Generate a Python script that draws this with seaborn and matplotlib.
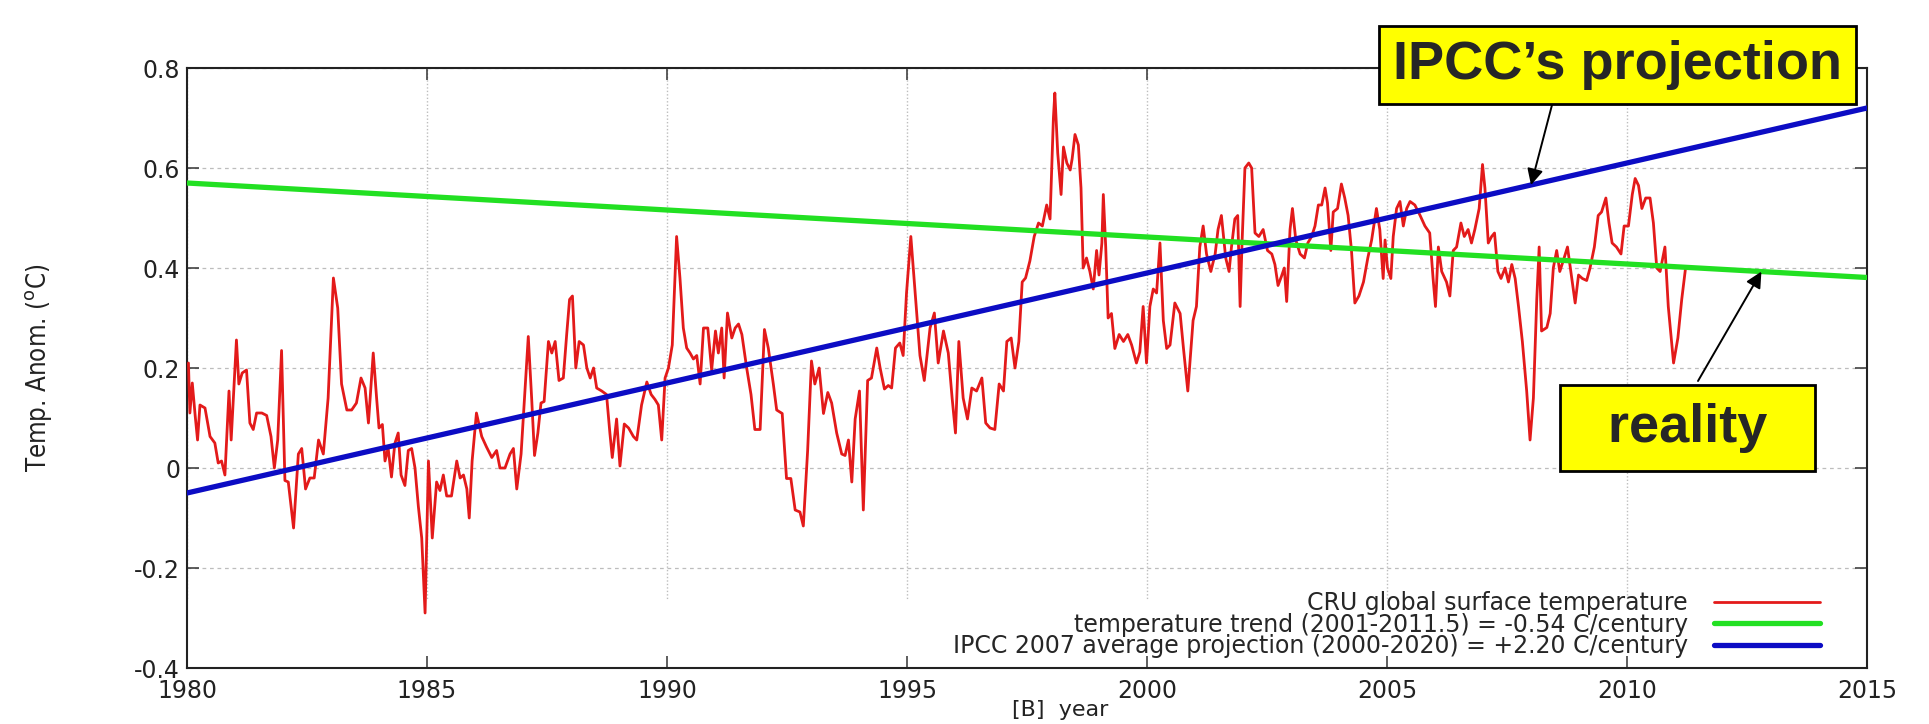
import numpy as np
import pandas as pd
import matplotlib
matplotlib.use("Agg")
import matplotlib.pyplot as plt
import seaborn as sns
from matplotlib.patches import Rectangle

# ---------------- data ----------------
years = [
    1980.03, 1980.06, 1980.11, 1980.17, 1980.22, 1980.27, 1980.375, 1980.48, 1980.58, 1980.65,
    1980.72, 1980.79, 1980.875, 1980.92, 1981.03, 1981.08, 1981.15, 1981.24, 1981.31, 1981.38,
    1981.45, 1981.56, 1981.66, 1981.75, 1981.82, 1981.89, 1981.97, 1982.04, 1982.11, 1982.22,
    1982.32, 1982.39, 1982.47, 1982.56, 1982.65, 1982.74, 1982.84, 1982.94, 1983.05, 1983.14,
    1983.22, 1983.33, 1983.43, 1983.53, 1983.625, 1983.71, 1983.78, 1983.88, 1983.95, 1984.0,
    1984.07, 1984.125, 1984.19, 1984.26, 1984.33, 1984.40, 1984.46, 1984.54, 1984.61, 1984.68,
    1984.75, 1984.82, 1984.89, 1984.96, 1985.03, 1985.11, 1985.20, 1985.27, 1985.34, 1985.41,
    1985.51, 1985.62, 1985.69, 1985.76, 1985.83, 1985.88, 1985.94, 1986.03, 1986.14, 1986.24,
    1986.35, 1986.45, 1986.52, 1986.625, 1986.73, 1986.80, 1986.87, 1986.96, 1987.04, 1987.11,
    1987.18, 1987.24, 1987.31, 1987.375, 1987.44, 1987.53, 1987.60, 1987.67, 1987.75, 1987.84,
    1987.91, 1987.97, 1988.03, 1988.10, 1988.17, 1988.26, 1988.33, 1988.40, 1988.47, 1988.535,
    1988.64, 1988.74, 1988.81, 1988.86, 1988.95, 1989.02, 1989.11, 1989.20, 1989.30, 1989.37,
    1989.47, 1989.58, 1989.67, 1989.75, 1989.82, 1989.89, 1989.96, 1990.03, 1990.11, 1990.20,
    1990.27, 1990.34, 1990.41, 1990.48, 1990.55, 1990.62, 1990.69, 1990.76, 1990.85, 1990.93,
    1991.01, 1991.07, 1991.14, 1991.19, 1991.26, 1991.35, 1991.42, 1991.49, 1991.56, 1991.66,
    1991.75, 1991.83, 1991.94, 1992.03, 1992.11, 1992.215, 1992.285, 1992.40, 1992.49, 1992.58,
    1992.67, 1992.77, 1992.84, 1992.93, 1993.01, 1993.08, 1993.17, 1993.26, 1993.35, 1993.43,
    1993.535, 1993.64, 1993.71, 1993.78, 1993.85, 1993.92, 1994.01, 1994.09, 1994.18, 1994.26,
    1994.37, 1994.44, 1994.53, 1994.61, 1994.68, 1994.76, 1994.85, 1994.92, 1994.99, 1995.08,
    1995.17, 1995.27, 1995.36, 1995.48, 1995.57, 1995.65, 1995.76, 1995.86, 1995.94, 1996.01,
    1996.08, 1996.17, 1996.26, 1996.35, 1996.45, 1996.56, 1996.64, 1996.73, 1996.83, 1996.92,
    1997.01, 1997.08, 1997.17, 1997.25, 1997.33, 1997.40, 1997.47, 1997.56, 1997.65, 1997.74,
    1997.82, 1997.91, 1997.98, 1998.05, 1998.08, 1998.14, 1998.21, 1998.26, 1998.33, 1998.40,
    1998.44, 1998.50, 1998.57, 1998.625, 1998.67, 1998.74, 1998.81, 1998.88, 1998.95, 1999.00,
    1999.06, 1999.09, 1999.14, 1999.19, 1999.26, 1999.33, 1999.42, 1999.51, 1999.60, 1999.68,
    1999.78, 1999.85, 1999.92, 1999.99, 2000.06, 2000.13, 2000.20, 2000.27, 2000.34, 2000.41,
    2000.48, 2000.58, 2000.69, 2000.76, 2000.85, 2000.96, 2001.03, 2001.10, 2001.17, 2001.24,
    2001.33, 2001.42, 2001.48, 2001.55, 2001.64, 2001.71, 2001.76, 2001.83, 2001.89, 2001.94,
    2001.98, 2002.04, 2002.12, 2002.18, 2002.25, 2002.33, 2002.42, 2002.51, 2002.60, 2002.665,
    2002.73, 2002.80, 2002.86, 2002.91, 2002.98, 2003.03, 2003.10, 2003.19, 2003.28, 2003.35,
    2003.43, 2003.50, 2003.57, 2003.64, 2003.71, 2003.76, 2003.83, 2003.88, 2003.97, 2004.05,
    2004.12, 2004.19, 2004.26, 2004.33, 2004.415, 2004.51, 2004.60, 2004.68, 2004.78, 2004.85,
    2004.92, 2004.96, 2005.01, 2005.08, 2005.13, 2005.20, 2005.27, 2005.34, 2005.41, 2005.48,
    2005.58, 2005.69, 2005.79, 2005.89, 2005.96, 2006.01, 2006.07, 2006.14, 2006.24, 2006.31,
    2006.38, 2006.45, 2006.54, 2006.61, 2006.69, 2006.76, 2006.83, 2006.92, 2006.99, 2007.04,
    2007.11, 2007.18, 2007.24, 2007.31, 2007.375, 2007.46, 2007.53, 2007.60, 2007.67, 2007.74,
    2007.82, 2007.91, 2007.98, 2008.05, 2008.12, 2008.17, 2008.22, 2008.33, 2008.40, 2008.465,
    2008.535, 2008.60, 2008.69, 2008.76, 2008.85, 2008.92, 2008.99, 2009.07, 2009.16, 2009.23,
    2009.32, 2009.40, 2009.47, 2009.56, 2009.625, 2009.69, 2009.78, 2009.875, 2009.94, 2010.03,
    2010.11, 2010.17, 2010.24, 2010.31, 2010.39, 2010.48, 2010.55, 2010.62, 2010.69, 2010.79,
    2010.86, 2010.97, 2011.06, 2011.14, 2011.22,
]
anomaly = [
    0.21, 0.11, 0.17, 0.105, 0.056, 0.126, 0.12, 0.063, 0.05, 0.01,
    0.014, -0.014, 0.154, 0.056, 0.256, 0.168, 0.19, 0.196, 0.09, 0.077,
    0.11, 0.11, 0.105, 0.063, 0.0, 0.056, 0.235, -0.025, -0.028, -0.12,
    0.028, 0.039, -0.042, -0.02, -0.02, 0.056, 0.028, 0.14, 0.38, 0.32,
    0.168, 0.116, 0.116, 0.13, 0.18, 0.16, 0.09, 0.23, 0.14, 0.08,
    0.087, 0.014, 0.04, -0.018, 0.049, 0.07, -0.014, -0.035, 0.035, 0.039,
    0.0, -0.077, -0.14, -0.29, 0.014, -0.14, -0.028, -0.045, -0.014, -0.056,
    -0.056, 0.014, -0.02, -0.014, -0.042, -0.10, 0.014, 0.11, 0.063, 0.042,
    0.021, 0.035, 0.0, 0.0, 0.028, 0.039, -0.042, 0.028, 0.154, 0.263,
    0.14, 0.025, 0.07, 0.13, 0.133, 0.253, 0.23, 0.253, 0.175, 0.18,
    0.267, 0.337, 0.344, 0.20, 0.253, 0.246, 0.20, 0.18, 0.20, 0.16,
    0.154, 0.147, 0.07, 0.021, 0.098, 0.004, 0.088, 0.08, 0.063, 0.056,
    0.126, 0.172, 0.147, 0.137, 0.126, 0.056, 0.18, 0.20, 0.246, 0.463,
    0.38, 0.28, 0.24, 0.23, 0.218, 0.225, 0.168, 0.28, 0.28, 0.196,
    0.274, 0.23, 0.28, 0.18, 0.31, 0.26, 0.28, 0.288, 0.267, 0.20,
    0.147, 0.077, 0.077, 0.277, 0.24, 0.168, 0.116, 0.109, -0.021, -0.021,
    -0.084, -0.088, -0.116, 0.035, 0.214, 0.168, 0.20, 0.109, 0.151, 0.13,
    0.07, 0.028, 0.025, 0.056, -0.028, 0.098, 0.154, -0.084, 0.175, 0.18,
    0.24, 0.20, 0.158, 0.165, 0.16, 0.24, 0.25, 0.225, 0.35, 0.463,
    0.35, 0.225, 0.175, 0.28, 0.31, 0.21, 0.274, 0.23, 0.14, 0.07,
    0.253, 0.14, 0.098, 0.16, 0.154, 0.18, 0.09, 0.08, 0.077, 0.168,
    0.154, 0.253, 0.26, 0.20, 0.253, 0.372, 0.38, 0.414, 0.463, 0.49,
    0.484, 0.526, 0.498, 0.70, 0.75, 0.63, 0.547, 0.642, 0.61, 0.596,
    0.618, 0.667, 0.646, 0.56, 0.40, 0.42, 0.393, 0.358, 0.435, 0.386,
    0.45, 0.547, 0.442, 0.30, 0.309, 0.239, 0.267, 0.253, 0.267, 0.246,
    0.21, 0.232, 0.323, 0.21, 0.323, 0.358, 0.35, 0.45, 0.295, 0.239,
    0.246, 0.33, 0.309, 0.239, 0.154, 0.295, 0.323, 0.442, 0.484, 0.428,
    0.393, 0.428, 0.477, 0.505, 0.42, 0.393, 0.442, 0.498, 0.505, 0.323,
    0.45, 0.60, 0.61, 0.60, 0.47, 0.463, 0.477, 0.435, 0.428, 0.407,
    0.365, 0.383, 0.40, 0.333, 0.477, 0.519, 0.456, 0.428, 0.42, 0.45,
    0.463, 0.484, 0.526, 0.526, 0.56, 0.53, 0.435, 0.512, 0.519, 0.568,
    0.54, 0.505, 0.435, 0.33, 0.344, 0.372, 0.42, 0.456, 0.519, 0.477,
    0.379, 0.456, 0.40, 0.379, 0.463, 0.519, 0.533, 0.484, 0.519, 0.533,
    0.526, 0.505, 0.484, 0.47, 0.379, 0.323, 0.442, 0.393, 0.372, 0.344,
    0.435, 0.442, 0.49, 0.463, 0.477, 0.45, 0.477, 0.519, 0.607, 0.56,
    0.45, 0.463, 0.47, 0.393, 0.379, 0.40, 0.372, 0.407, 0.379, 0.323,
    0.253, 0.154, 0.056, 0.14, 0.337, 0.442, 0.274, 0.281, 0.309, 0.40,
    0.435, 0.393, 0.42, 0.442, 0.379, 0.33, 0.386, 0.379, 0.375, 0.40,
    0.442, 0.505, 0.512, 0.54, 0.49, 0.45, 0.442, 0.428, 0.484, 0.484,
    0.547, 0.579, 0.565, 0.519, 0.54, 0.54, 0.49, 0.40, 0.393, 0.442,
    0.323, 0.21, 0.26, 0.337, 0.40,
]

# linear trends (C/century) and their values at 1980
trend_rate = -0.54
trend_at_1980 = 0.57
ipcc_rate = 2.20
ipcc_at_1980 = -0.05

x_ticks = [1980, 1985, 1990, 1995, 2000, 2005, 2010, 2015]
y_ticks = [-0.4, -0.2, 0.0, 0.2, 0.4, 0.6, 0.8]
y_tick_labels = ["-0.4", "-0.2", "0", "0.2", "0.4", "0.6", "0.8"]

series_labels = [
    "CRU global surface temperature",
    "temperature trend (2001-2011.5) = -0.54 C/century",
    "IPCC 2007 average projection (2000-2020) = +2.20 C/century",
]
callout_projection = "IPCC\u2019s projection"
callout_reality = "  reality  "
ipcc_arrow_year = 2008.0
reality_arrow_year = 2012.8

# ---------------- styling ----------------
sns.set_theme(style="white")
plt.rcParams['font.family'] = ['DejaVu Sans']
plt.rcParams['axes.unicode_minus'] = False

W, H = 1929, 724
fig = plt.figure(figsize=(W / 100, H / 100), dpi=100)
fig.patch.set_facecolor("white")
ax = fig.add_axes([187 / W, 1 - 668 / H, 1680 / W, 600 / H])
ax.set_facecolor("white")

red = "#e31a1a"
green = "#22e022"
blue = "#0c0cc4"

df = pd.DataFrame({"year": years, "anomaly": anomaly})
sns.lineplot(data=df, x="year", y="anomaly", color=red, linewidth=2.0,
             estimator=None, sort=False, label=series_labels[0], ax=ax, zorder=3)

span = np.array([x_ticks[0], x_ticks[-1]], dtype=float)
trend_df = pd.DataFrame({"year": span,
                         "value": trend_at_1980 + trend_rate / 100 * (span - 1980)})
ipcc_df = pd.DataFrame({"year": span,
                        "value": ipcc_at_1980 + ipcc_rate / 100 * (span - 1980)})
sns.lineplot(data=trend_df, x="year", y="value", color=green, linewidth=3.8,
             estimator=None, label=series_labels[1], ax=ax, zorder=4)
sns.lineplot(data=ipcc_df, x="year", y="value", color=blue, linewidth=3.8,
             estimator=None, label=series_labels[2], ax=ax, zorder=5)

ax.set_xlim(x_ticks[0], x_ticks[-1])
ax.set_ylim(y_ticks[0], y_ticks[-1])
ax.set_xticks(x_ticks, labels=[str(t) for t in x_ticks])
ax.set_yticks(y_ticks, labels=y_tick_labels)

for s in ax.spines.values():
    s.set_visible(True)
    s.set_linewidth(1.5)
    s.set_color("#222222")

ax.tick_params(axis="both", which="major", direction="in", length=8.5, width=1.1,
               color="#333333", labelsize=17, labelcolor="#222222",
               top=True, right=True, bottom=True, left=True)
ax.tick_params(axis="y", pad=5)
ax.tick_params(axis="x", pad=8)

ax.grid(True)
for gl in ax.get_ygridlines():
    gl.set_color("#bdbdbd")
    gl.set_linewidth(0.9)
    gl.set_dashes((3, 3))
clip_rect = Rectangle((0, 0.111), 1, 0.889, transform=ax.transAxes)
for gl in ax.get_xgridlines():
    gl.set_color("#bdbdbd")
    gl.set_linewidth(1.0)
    gl.set_dashes((1, 1.5))
    gl.set_clip_path(clip_rect)

ax.set_ylabel("Temp. Anom. ($^{\\rm o}$C)", fontsize=18.5, fontstretch="condensed",
              family=["DejaVu Sans"], color="#222222")
ax.yaxis.set_label_coords(-0.079, 0.5)
ax.set_xlabel("[B]  year", fontsize=16, color="#222222")
ax.xaxis.set_label_coords(0.52, -0.053)

handles, labels = ax.get_legend_handles_labels()
ax.legend(handles, labels, loc="lower right", bbox_to_anchor=(0.972, 0.017),
          markerfirst=False, frameon=False, fontsize=17, handlelength=4.5,
          handletextpad=1.1, labelspacing=-0.12, borderpad=0, borderaxespad=0)

# call-out boxes and arrows
fig.text(1617.5 / W, 1 - 65 / H, callout_projection, fontsize=39, fontweight="bold",
         family=["Liberation Sans", "DejaVu Sans"], ha="center", va="center",
         bbox=dict(boxstyle="square,pad=0.25", fc="#ffff00", ec="black", lw=2), zorder=10)
fig.text(1687.5 / W, 1 - 428 / H, callout_reality, fontsize=39, fontweight="bold",
         family=["Liberation Sans", "DejaVu Sans"], ha="center", va="center",
         bbox=dict(boxstyle="square,pad=0.33", fc="#ffff00", ec="black", lw=2), zorder=10)

arrow = dict(arrowstyle="-|>", color="black", lw=1.4, mutation_scale=24,
             shrinkA=0, shrinkB=0)
ax.annotate("", xy=(ipcc_arrow_year, ipcc_at_1980 + ipcc_rate / 100 * (ipcc_arrow_year - 1980)),
            xycoords="data", xytext=(1552 / W, 1 - 105 / H), textcoords="figure fraction",
            arrowprops=arrow, annotation_clip=False, zorder=8)
ax.annotate("", xy=(reality_arrow_year, trend_at_1980 + trend_rate / 100 * (reality_arrow_year - 1980)),
            xycoords="data", xytext=(1698 / W, 1 - 381 / H), textcoords="figure fraction",
            arrowprops=arrow, annotation_clip=False, zorder=8)

fig.savefig("out.png", dpi=100)
